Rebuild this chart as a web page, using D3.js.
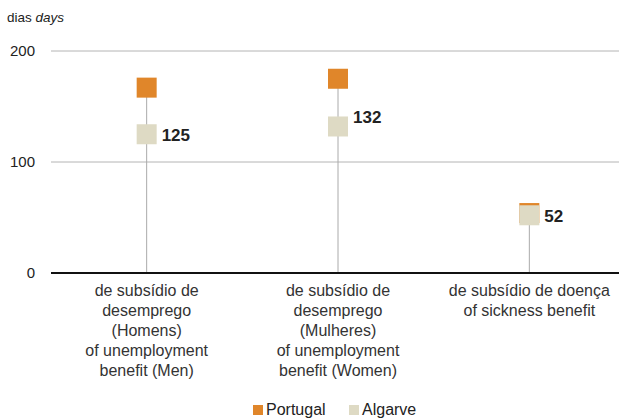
<!DOCTYPE html>
<html>
<head>
<meta charset="utf-8">
<script src="https://cdn.jsdelivr.net/npm/d3@7"></script>
<style>
  body { margin: 0; background: #fff; }
  svg { font-family: "Liberation Sans", Arial, sans-serif; }
</style>
</head>
<body>
<div id="chart"></div>
<script>
// data
var categories = [
  ["de subsídio de", "desemprego", "(Homens)", "of unemployment", "benefit (Men)"],
  ["de subsídio de", "desemprego", "(Mulheres)", "of unemployment", "benefit (Women)"],
  ["de subsídio de doença", "of sickness benefit"]
];
var portugal = [167, 175, 54];
var algarve = [125, 132, 52];
var yTicks = [0, 100, 200];
var seriesNames = ["Portugal", "Algarve"];

var width = 619, height = 418;
var colors = ["#E0862A", "#DEDAC4"];
var sq = 20;

var svg = d3.select("#chart")
  .append("svg")
    .attr("width", width)
    .attr("height", height);

var x = d3.scaleBand()
  .domain(d3.range(categories.length))
  .range([51, 625]);

var y = d3.scaleLinear()
  .domain([0, 200])
  .range([273, 51]);

// unit label
var unit = svg.append("text")
  .attr("x", 7)
  .attr("y", 22)
  .attr("font-size", 13.5)
  .attr("fill", "#222");
unit.append("tspan").text("dias ");
unit.append("tspan").attr("font-style", "italic").text("days");

// gridlines + y labels
svg.append("g")
  .selectAll("line")
  .data(yTicks.filter(d => d > 0))
  .enter()
  .append("line")
    .attr("x1", 51)
    .attr("x2", width)
    .attr("y1", d => y(d))
    .attr("y2", d => y(d))
    .attr("stroke", "#b4b4b4")
    .attr("stroke-width", 1);

svg.append("g")
  .selectAll("text")
  .data(yTicks)
  .enter()
  .append("text")
    .attr("x", 35)
    .attr("y", d => y(d) + 5)
    .attr("text-anchor", "end")
    .attr("font-size", 15)
    .attr("fill", "#222")
    .text(d => d);

var cx = i => x(i) + x.bandwidth() / 2;

// stems
svg.append("g")
  .selectAll("line")
  .data(portugal)
  .enter()
  .append("line")
    .attr("x1", (d, i) => cx(i))
    .attr("x2", (d, i) => cx(i))
    .attr("y1", y(0))
    .attr("y2", (d, i) => y(Math.max(d, algarve[i])))
    .attr("stroke", "#aaaaaa")
    .attr("stroke-width", 1);

// axis line
svg.append("line")
  .attr("x1", 51)
  .attr("x2", width)
  .attr("y1", y(0))
  .attr("y2", y(0))
  .attr("stroke", "#111")
  .attr("stroke-width", 2);

// squares
[portugal, algarve].forEach(function(vals, s) {
  svg.append("g")
    .selectAll("rect")
    .data(vals)
    .enter()
    .append("rect")
      .attr("x", (d, i) => cx(i) - sq / 2)
      .attr("y", d => y(d) - sq / 2)
      .attr("width", sq)
      .attr("height", sq)
      .attr("fill", colors[s]);
});

// value labels (middle one nudged up like the original)
var labelShift = [0, -10, 0];
svg.append("g")
  .selectAll("text")
  .data(algarve)
  .enter()
  .append("text")
    .attr("x", (d, i) => cx(i) + sq / 2 + 5)
    .attr("y", (d, i) => y(d) + 7 + labelShift[i])
    .attr("font-size", 17)
    .attr("font-weight", "bold")
    .attr("fill", "#222")
    .text(d => d);

// category labels
var cat = svg.append("g")
  .selectAll("text")
  .data(categories)
  .enter()
  .append("text")
    .attr("x", (d, i) => cx(i))
    .attr("y", 296)
    .attr("text-anchor", "middle")
    .attr("font-size", 16)
    .attr("fill", "#333");
cat.selectAll("tspan")
  .data(d => d)
  .enter()
  .append("tspan")
    .attr("x", function() { return this.parentNode.getAttribute("x"); })
    .attr("dy", (d, j) => j === 0 ? 0 : 20)
    .text(d => d);

// legend
var legend = svg.append("g");
var lx = [253, 349];
seriesNames.forEach(function(name, s) {
  legend.append("rect")
    .attr("x", lx[s])
    .attr("y", 405)
    .attr("width", 10)
    .attr("height", 10)
    .attr("fill", colors[s]);
  legend.append("text")
    .attr("x", lx[s] + 13)
    .attr("y", 415)
    .attr("font-size", 16)
    .attr("fill", "#222")
    .text(name);
});
</script>
</body>
</html>
